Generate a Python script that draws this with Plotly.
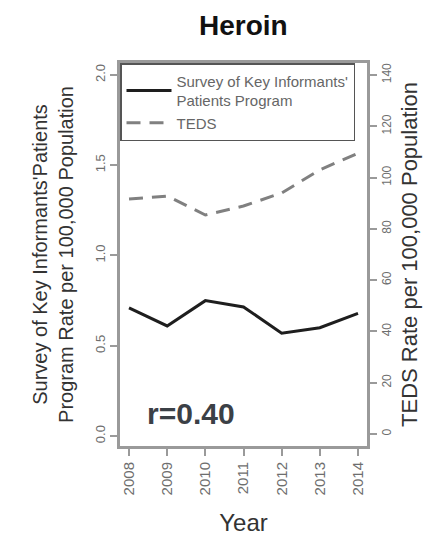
import plotly.graph_objects as go

years = [2008, 2009, 2010, 2011, 2012, 2013, 2014]
survey_rate = [0.71, 0.61, 0.75, 0.715, 0.57, 0.60, 0.68]
teds_rate = [91.6, 92.8, 85.4, 88.9, 94.0, 103.0, 109.5]
left_ticks = [0.0, 0.5, 1.0, 1.5, 2.0]
right_ticks = [0, 20, 40, 60, 80, 100, 120, 140]
r_label = "r=0.40"

FONT = "Arial, Liberation Sans, sans-serif"
AXIS_GRAY = "#9a9a9a"
TICK_GRAY = "#6e6e6e"
TITLE_GRAY = "#333333"

fig = go.Figure()
fig.add_trace(go.Scatter(
    x=years, y=survey_rate, mode="lines",
    name="Survey of Key Informants'<br>Patients Program",
    line=dict(color="#1e1e1e", width=3), yaxis="y"))
fig.add_trace(go.Scatter(
    x=years, y=teds_rate, mode="lines", name="TEDS",
    line=dict(color="#808080", width=3, dash="14px,9px"), yaxis="y2"))

fig.update_layout(
    width=433, height=536,
    margin=dict(l=120, r=66, t=63, b=90, autoexpand=False),
    paper_bgcolor="white", plot_bgcolor="white",
    font=dict(family=FONT, color=TITLE_GRAY),
    title=dict(text="<b>Heroin</b>", x=0.562, xanchor="center",
               y=1 - 25 / 536, yanchor="middle", yref="container",
               font=dict(size=28, color="#111111")),
    showlegend=True,
    legend=dict(x=0, y=1, xanchor="left", yanchor="top",
                bgcolor="white", bordercolor="#555555", borderwidth=1.5,
                font=dict(size=15, color="#666666"),
                itemwidth=45, tracegroupgap=0),
    xaxis=dict(range=[2007.764, 2014.236], tickmode="array", tickvals=years,
               ticktext=[str(y) for y in years], automargin=False,
               tickangle=-90, ticks="outside", ticklen=7, tickwidth=1.5,
               tickcolor=AXIS_GRAY, tickfont=dict(size=15, color=TICK_GRAY),
               showline=True, linecolor=AXIS_GRAY, linewidth=3, mirror=True,
               showgrid=False, zeroline=False,
               title=dict(text="Year", font=dict(size=24, color=TITLE_GRAY),
                          standoff=20)),
    yaxis=dict(range=[-0.055, 2.066], tickmode="array", tickvals=left_ticks,
               ticktext=[f"{v:.1f}" for v in left_ticks], automargin=False,
               tickangle=-90, ticks="outside", ticklen=7, tickwidth=1.5,
               tickcolor=AXIS_GRAY, tickfont=dict(size=13, color=TICK_GRAY),
               showline=True, linecolor=AXIS_GRAY, linewidth=3, mirror=True,
               showgrid=False, zeroline=False,
               title=dict(text="Survey of Key Informants'Patients<br>Program Rate per 100,000 Population",
                          font=dict(size=20, color=TITLE_GRAY), standoff=14)),
    yaxis2=dict(range=[-4.68, 144.68], overlaying="y", side="right",
                tickmode="array", tickvals=right_ticks, automargin=False,
                ticktext=[str(v) for v in right_ticks],
                tickangle=-90, ticks="outside", ticklen=7, tickwidth=1.5,
                tickcolor=AXIS_GRAY, tickfont=dict(size=12, color=TICK_GRAY),
                showline=True, linecolor=AXIS_GRAY, linewidth=3,
                showgrid=False, zeroline=False,
                title=dict(text="TEDS Rate per 100,000 Population",
                           font=dict(size=22, color=TITLE_GRAY), standoff=9)),
    annotations=[dict(text=f"<b>{r_label}</b>", x=2008.42, y=0.127,
                      xref="x", yref="y", xanchor="left", yanchor="middle",
                      showarrow=False, font=dict(size=30, color="#3b4046"))],
)

fig.write_html("out.html")
